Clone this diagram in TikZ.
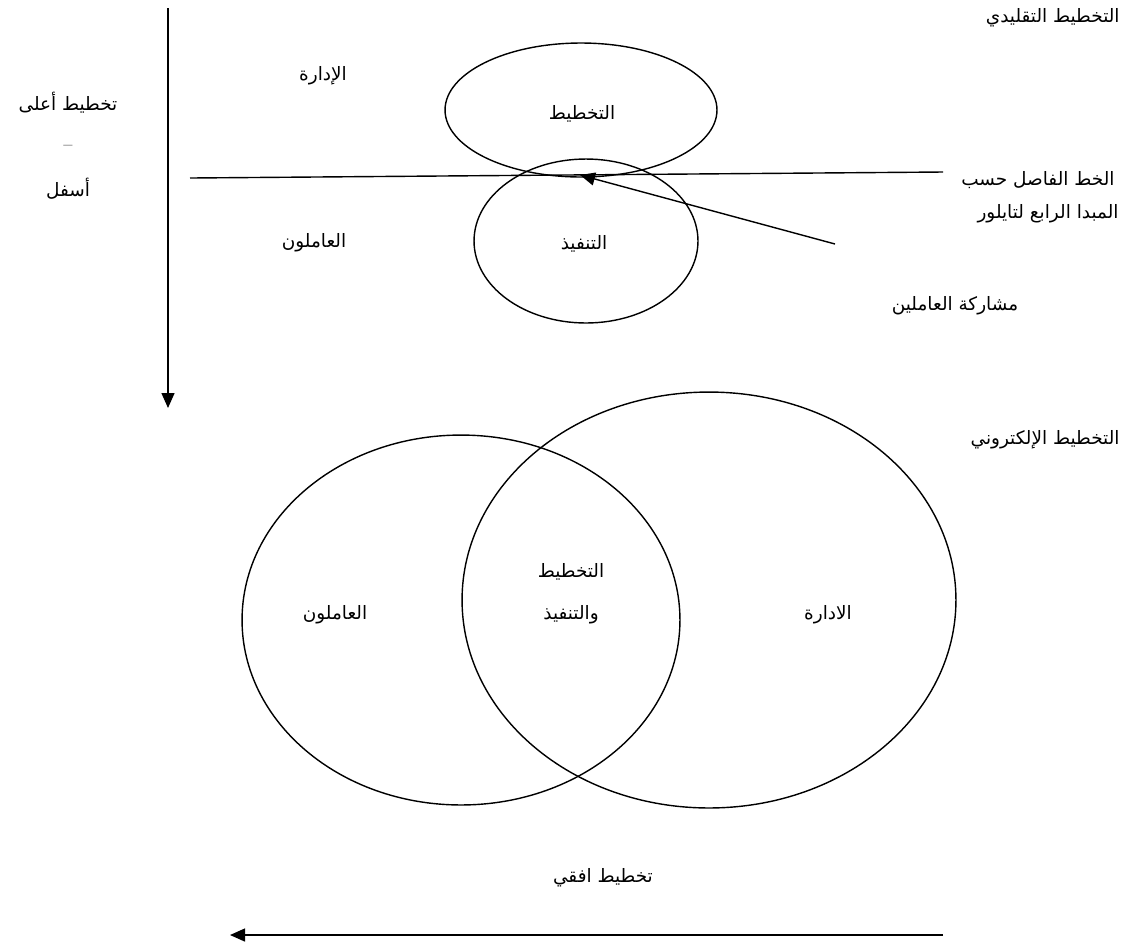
\documentclass[tikz,border=0pt]{standalone}
\usepackage{fontspec}
\newfontfamily\arabicfont[Script=Arabic]{DejaVu Sans}
\TeXXeTstate=1
\usepackage{tikz}
\usetikzlibrary{arrows.meta,shapes.geometric,positioning}
\newcommand{\artxt}[1]{{\arabicfont\beginR #1\endR}}
\tikzset{>={Triangle[length=3mm,width=2.6mm]},auto}
\tikzset{oval/.style={draw,ellipse,inner sep=0pt,line width=0.8pt}}
\tikzset{label text/.style={font=\fontsize{10.5}{13}\selectfont,inner sep=1pt}}

\begin{document}
\begin{tikzpicture}[x=0.02cm,y=-0.02cm,line width=0.8pt]
				\useasboundingbox (0,0) rectangle (1141,941);
				% traditional planning
				\node[oval,minimum width=5.44cm,minimum height=2.68cm] (plan) at (581,110) {};
				\node[oval,minimum width=4.48cm,minimum height=3.28cm] (exec) at (586,241) {};
				\node[label text] (planl) at (582,114) {\artxt{التخطيط}};
				\node[label text] (execl) at (584,244) {\artxt{التنفيذ}};
				\node[label text] (mgmt) at (323,76) {\artxt{الإدارة}};
				\node[label text] (work) at (314,243) {\artxt{العاملون}};
				\node[label text,anchor=east] (trad) at (1122,18) {\artxt{التخطيط التقليدي}};
				\node[label text,anchor=east] (sep1) at (1117,180) {\artxt{الخط الفاصل حسب}};
				\node[label text,anchor=east] (sep2) at (1121,214) {\artxt{المبدا الرابع لتايلور}};
				\node[label text] (part) at (955,306) {\artxt{مشاركة العاملين}};
				\node[label text] (topdown1) at (68,103) {\artxt{تخطيط أعلى}};
				\node[label text] (topdown2) at (68,148) {--};
				\node[label text] (topdown3) at (68,189) {\artxt{أسفل}};
				\coordinate (lineL) at (190,178);
				\coordinate (lineR) at (943,172);
				\coordinate (partS) at (835,244);
				\coordinate (partE) at (580,175);
				\coordinate (vTop) at (168,8);
				\coordinate (vBot) at (168,408);
				\draw (lineL) -- (lineR);
				\draw[->] (partS) -- (partE);
				\draw[->] (vTop) -- (vBot);
				% electronic planning
				\node[oval,minimum width=8.76cm,minimum height=7.4cm] (workers) at (461,620) {};
				\node[oval,minimum width=9.88cm,minimum height=8.32cm] (admin) at (709,600) {};
				\node[label text] (both1) at (571,572) {\artxt{التخطيط}};
				\node[label text] (both2) at (571,615) {\artxt{والتنفيذ}};
				\node[label text] (workl) at (335,615) {\artxt{العاملون}};
				\node[label text] (adminl) at (828,615) {\artxt{الادارة}};
				\node[label text,anchor=east] (elec) at (1122,440) {\artxt{التخطيط الإلكتروني}};
				\node[label text] (horiz) at (603,878) {\artxt{تخطيط افقي}};
				\coordinate (hR) at (943,935);
				\coordinate (hL) at (230,935);
				\draw[->] (hR) -- (hL);
			\end{tikzpicture}
\end{document}
